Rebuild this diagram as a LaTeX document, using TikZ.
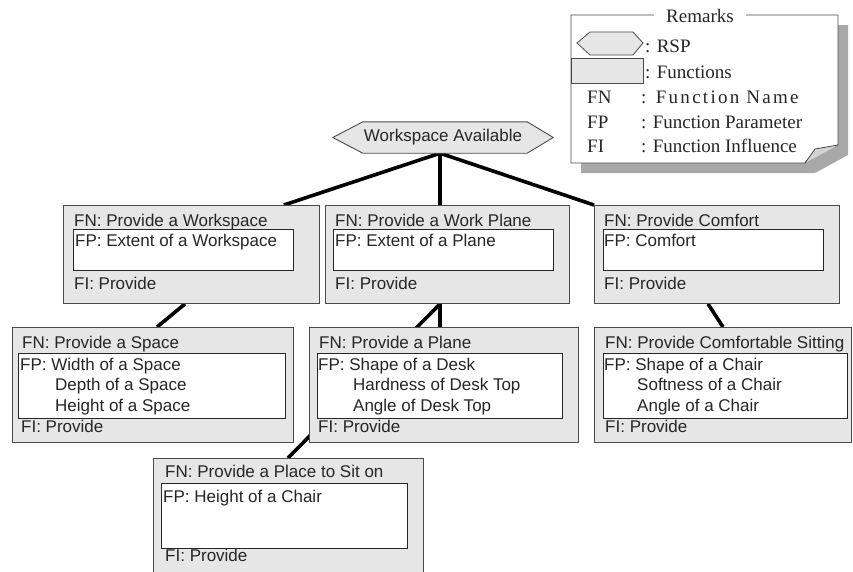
\documentclass[tikz,border=0pt]{standalone}
\usepackage{fontspec}
\setmainfont{Liberation Sans}
\newfontfamily\lgfont{Liberation Serif}
\newfontfamily\lgspread{Liberation Serif}[LetterSpace=12]
\pgfdeclarelayer{bg}
\pgfsetlayers{bg,main}
\definecolor{boxfill}{HTML}{E6E6E6}
\definecolor{boxline}{HTML}{4A4A4A}
\definecolor{txt}{HTML}{262626}
\definecolor{shadowc}{HTML}{A8A8A8}
\definecolor{flapc}{HTML}{D4D4D4}
\begin{document}
\begin{tikzpicture}[x=1pt,y=-1pt,
  fbox/.style={draw=boxline, fill=boxfill, line width=0.9pt, rectangle, anchor=north west, inner sep=0pt},
  pbox/.style={draw=black!85, fill=white, line width=0.9pt, rectangle, anchor=north west, inner sep=0pt},
  lbl/.style={anchor=base west, inner sep=0pt, text=txt, font=\fontsize{17}{20}\selectfont},
  link/.style={line width=3.6pt, black},
  lg/.style={anchor=base west, inner sep=0pt, text=txt, font=\lgfont\fontsize{19}{23}\selectfont},
  lgs/.style={anchor=base west, inner sep=0pt, text=txt, font=\lgspread\fontsize{19}{23}\selectfont}]
\clip (0,0) rectangle (853,571);

% ---------- Remarks (legend) ----------
\fill[shadowc] (581,25) -- (848,25) -- (848,155) -- (815,173) -- (581,173) -- cycle;
\draw[boxline, fill=white, line width=0.9pt] (571,15) -- (838,15) -- (838,145)
  .. controls (826,149) and (812,154) .. (805,163) -- (571,163) -- cycle;
\draw[boxline, fill=flapc, line width=0.8pt] (805,163) -- (815,149) -- (838,145);
\node[anchor=center, fill=white, inner xsep=12pt, inner ysep=1pt, text=txt,
      font=\lgfont\fontsize{19}{23}\selectfont] (remarks) at (700,16) {Remarks};
\draw[boxline, fill=boxfill, line width=0.8pt] (577,43) -- (590,32) -- (633,32) -- (643,43) -- (633,55) -- (590,55) -- cycle;
\draw[boxline, fill=boxfill, line width=0.8pt] (571,58) rectangle (643,83);
\node[lg] (lrsp) at (645,52) {: RSP};
\node[lg] (lfun) at (645,78) {: Functions};
\node[lg] (lfn) at (587,103) {FN};
\node[lgs] (lfnt) at (641,103) {: Function Name};
\node[lg] (lfp) at (587,128) {FP};
\node[lg] (lfpt) at (641,128) {: Function Parameter};
\node[lg] (lfi) at (587,152) {FI};
\node[lg] (lfit) at (641,152) {: Function Influence};

% ---------- RSP ----------
\node[minimum width=220pt, minimum height=31pt, inner sep=0pt, text=txt,
      font=\fontsize{17}{20}\selectfont] (H) at (443,137.5) {Workspace Available};
\draw[boxline, fill=boxfill, line width=0.9pt] (H.west) -- ([xshift=30pt]H.north west)
  -- ([xshift=-26pt]H.north east) -- (H.east) -- ([xshift=-26pt]H.south east)
  -- ([xshift=30pt]H.south west) -- cycle;
\node[minimum width=220pt, minimum height=31pt, inner sep=0pt, text=txt,
      font=\fontsize{17}{20}\selectfont] (Ht) at (H.center) {Workspace Available};

% ---------- Row 1 ----------
\node[fbox, minimum width=256pt, minimum height=98pt] (A) at (63,205) {};
\node[pbox, minimum width=220pt, minimum height=41pt] (Ap) at (73,229) {};
\node[lbl] (Afn) at (74,226) {FN: Provide a Workspace};
\node[lbl] (Afp) at (75,246) {FP: Extent of a Workspace};
\node[lbl] (Afi) at (74,289) {FI: Provide};

\node[fbox, minimum width=244pt, minimum height=98pt] (B) at (325,205) {};
\node[pbox, minimum width=220pt, minimum height=41pt] (Bp) at (333,229) {};
\node[lbl] (Bfn) at (335,226) {FN: Provide a Work Plane};
\node[lbl] (Bfp) at (335,246) {FP: Extent of a Plane};
\node[lbl] (Bfi) at (335,289) {FI: Provide};

\node[fbox, minimum width=245pt, minimum height=98pt] (C) at (594,205) {};
\node[pbox, minimum width=220pt, minimum height=41pt] (Cp) at (603,229) {};
\node[lbl] (Cfn) at (604,226) {FN: Provide Comfort};
\node[lbl] (Cfp) at (604,246) {FP: Comfort};
\node[lbl] (Cfi) at (604,289) {FI: Provide};

% ---------- Row 2 ----------
\node[fbox, minimum width=281pt, minimum height=115pt] (D) at (12,327) {};
\node[pbox, minimum width=267pt, minimum height=65pt] (Dp) at (18,353) {};
\node[lbl] (Dfn) at (22,348) {FN: Provide a Space};
\node[lbl] (Dfp) at (20,370) {FP: Width of a Space};
\node[lbl] (Dfp2) at (55,390) {Depth of a Space};
\node[lbl] (Dfp3) at (55,411) {Height of a Space};
\node[lbl] (Dfi) at (21,432) {FI: Provide};

\node[fbox, minimum width=269pt, minimum height=115pt] (E) at (309,327) {};
\node[pbox, minimum width=245pt, minimum height=65pt] (Ep) at (317,353) {};
\node[lbl] (Efn) at (319,348) {FN: Provide a Plane};
\node[lbl] (Efp) at (318,370) {FP: Shape of a Desk};
\node[lbl] (Efp2) at (353,390) {Hardness of Desk Top};
\node[lbl] (Efp3) at (353,411) {Angle of Desk Top};
\node[lbl] (Efi) at (318,432) {FI: Provide};

\node[fbox, minimum width=257pt, minimum height=115pt] (F) at (594,327) {};
\node[pbox, minimum width=244pt, minimum height=65pt] (Fp) at (603,353) {};
\node[lbl] (Ffn) at (605,348) {FN: Provide Comfortable Sitting};
\node[lbl] (Ffp) at (604,370) {FP: Shape of a Chair};
\node[lbl] (Ffp2) at (637,390) {Softness of a Chair};
\node[lbl] (Ffp3) at (637,411) {Angle of a Chair};
\node[lbl] (Ffi) at (605,432) {FI: Provide};

% ---------- Row 3 ----------
\node[fbox, minimum width=270pt, minimum height=130pt] (G) at (153,458) {};
\node[pbox, minimum width=246pt, minimum height=65pt] (Gp) at (161,483) {};
\node[lbl] (Gfn) at (165,477) {FN: Provide a Place to Sit on};
\node[lbl] (Gfp) at (163,502) {FP: Height of a Chair};
\node[lbl] (Gfi) at (165,561) {FI: Provide};

% ---------- Connectors ----------
\begin{pgfonlayer}{bg}
\draw[link] ([xshift=-3pt]H.south) -- ([xshift=-36pt]A.north east);
\draw[link] ([xshift=-3pt]H.south) -- ([xshift=-3pt]H.south |- B.north);
\draw[link] ([xshift=-3pt]H.south) -- (C.north west);
\draw[link] ([xshift=122pt]A.south west) -- ([xshift=145pt]D.north west);
\draw[link] ([xshift=115pt]B.south west) -- ([xshift=131pt]E.north west);
\draw[link] ([xshift=115pt]B.south west) -- ([xshift=135pt]G.north west);
\draw[link] ([xshift=114pt]C.south west) -- ([xshift=129pt]F.north west);
\end{pgfonlayer}
\end{tikzpicture}
\end{document}
